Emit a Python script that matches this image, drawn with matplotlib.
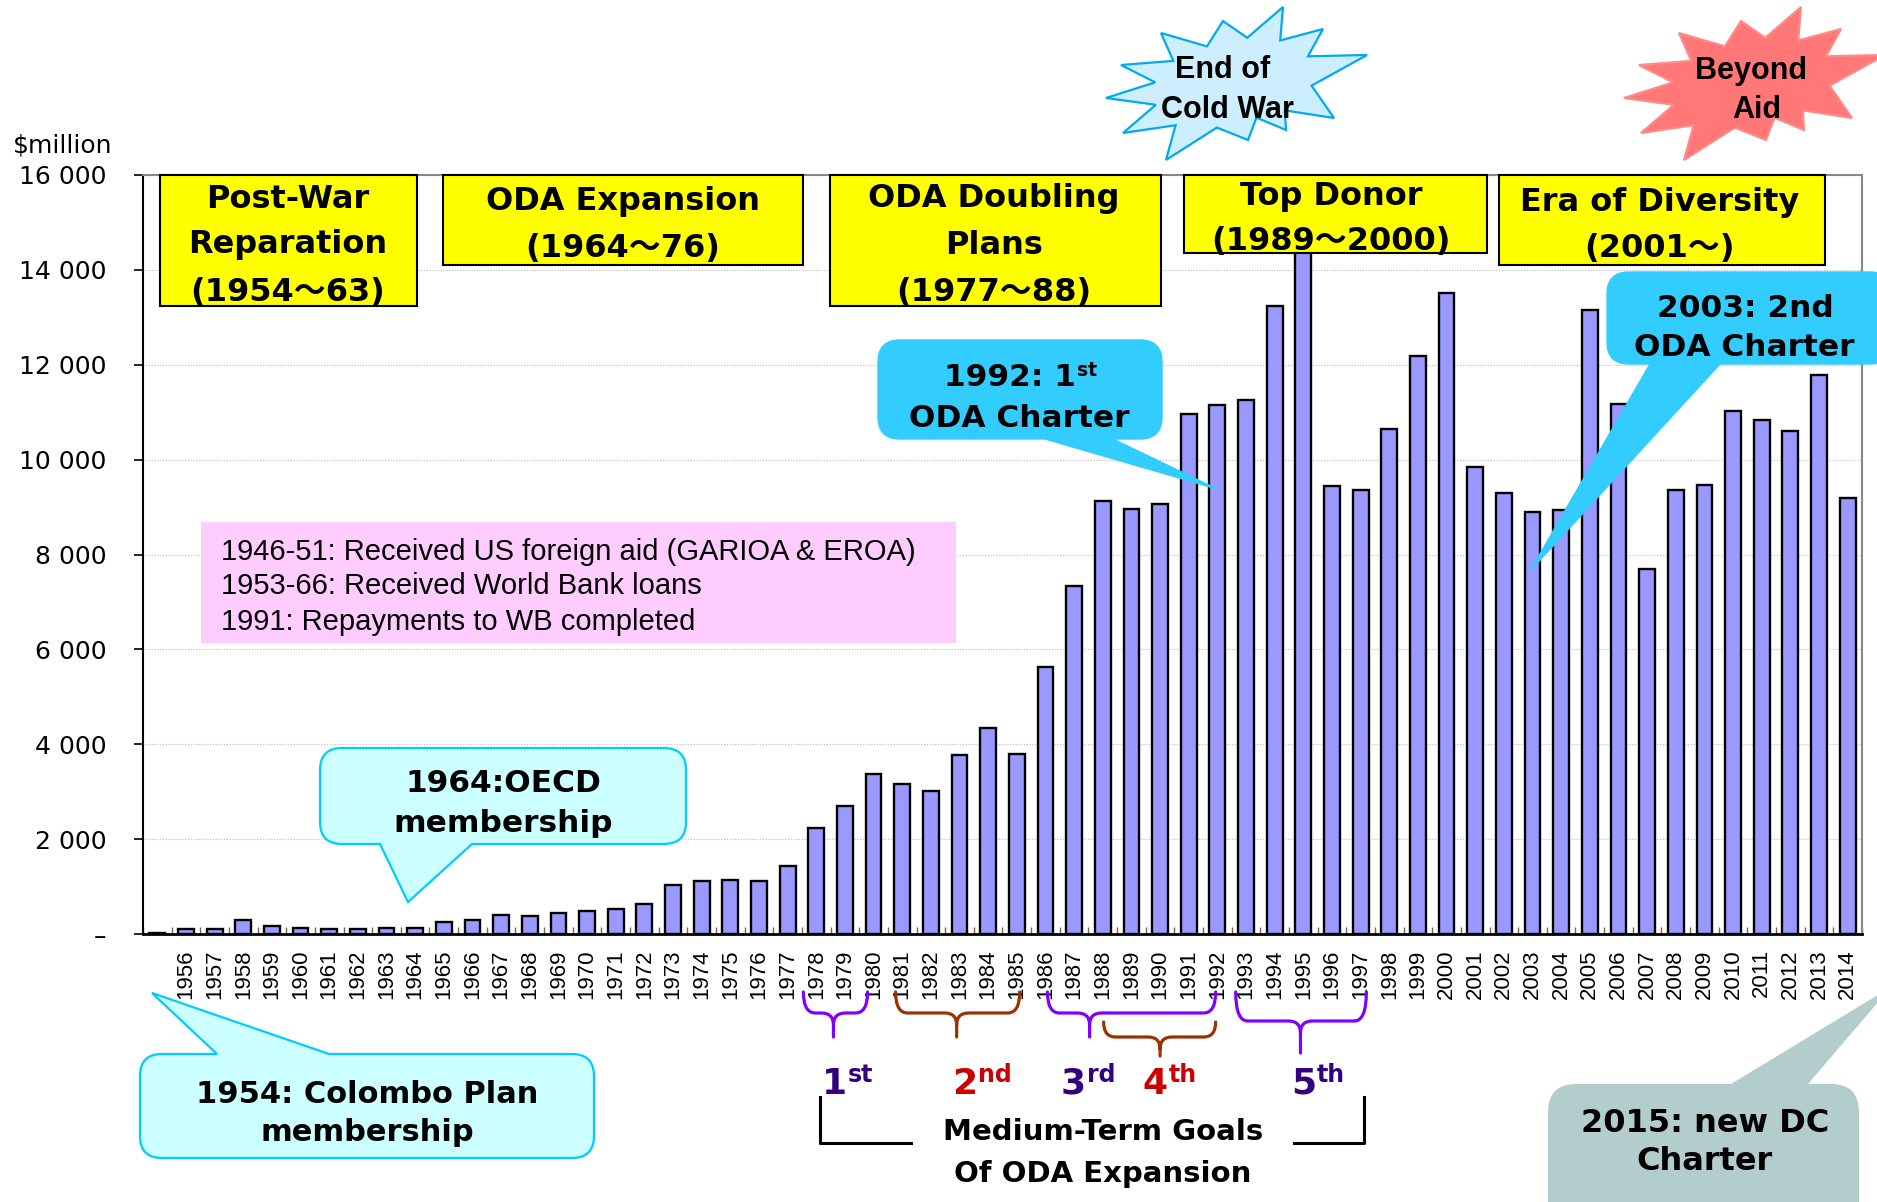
import matplotlib
matplotlib.use("Agg")
import matplotlib.pyplot as plt
from matplotlib.path import Path
from matplotlib.patches import PathPatch, Rectangle, Polygon

# ---------------- data ----------------
years = list(range(1955, 2015))
oda_musd = [20, 100, 100, 300, 160, 120, 110, 100, 137, 130,
            262, 297, 400, 377, 445, 480, 525, 628, 1027, 1120,
            1141, 1107, 1426, 2225, 2693, 3366, 3172, 3024, 3765, 4336,
            3800, 5637, 7337, 9128, 8968, 9071, 10954, 11148, 11262, 13247,
            14489, 9447, 9368, 10646, 12175, 13521, 9850, 9288, 8889, 8934,
            13156, 11182, 7690, 9368, 9470, 11022, 10840, 10611, 11787, 9197]
year_labels = [""] + [str(y) for y in years[1:]]
ytick_values = [0, 2000, 4000, 6000, 8000, 10000, 12000, 14000, 16000]
ytick_labels = ["–", "2 000", "4 000", "6 000", "8 000", "10 000", "12 000", "14 000", "16 000"]

era_lines = [["Post-War", "Reparation", "(1954～63)"],
             ["ODA Expansion", "(1964～76)"],
             ["ODA Doubling", "Plans", "(1977～88)"],
             ["Top Donor", "(1989～2000)"],
             ["Era of Diversity", "(2001～)"]]
pink_lines = ["1946-51: Received US foreign aid (GARIOA & EROA)",
              "1953-66: Received World Bank loans",
              "1991: Repayments to WB completed"]
goal_digits = ["1", "2", "3", "4", "5"]
goal_sups = ["st", "nd", "rd", "th", "th"]

# ---------------- figure ----------------
W, H = 1877, 1202
fig = plt.figure(figsize=(W / 100, H / 100), dpi=100)
AX_L, AX_R, AX_T, AX_B = 143, 1862, 175, 934
ax = fig.add_axes([AX_L / W, 1 - AX_B / H, (AX_R - AX_L) / W, (AX_B - AX_T) / H])

ax.bar(years, oda_musd, width=0.55, color="#9999FF", edgecolor="black",
       linewidth=1.7, zorder=3)
ax.set_xlim(1954.5, 2014.5)
ax.set_ylim(0, 16000)
ax.set_yticks(ytick_values)
ax.set_yticklabels(ytick_labels, fontsize=18, family="DejaVu Sans")
ax.set_xticks(years)
ax.set_xticklabels(year_labels, rotation=90, fontsize=16, family="Liberation Sans")
ax.set_xticks([y + 0.5 for y in [years[0] - 1] + years], minor=True)
ax.tick_params(axis="x", which="major", length=0, pad=11)
ax.tick_params(axis="x", which="minor", direction="in", length=5, width=1, color="#666666")
ax.tick_params(axis="y", length=6.5, width=1.2, pad=20)
ax.yaxis.grid(True, linestyle=(0, (1, 1.5)), color="#BBBBBB", linewidth=0.8)
ax.set_axisbelow(True)
ax.spines["left"].set_linewidth(1.5)
ax.spines["bottom"].set_linewidth(2.0)
for s in ("top", "right"):
    ax.spines[s].set_color("#888888")
    ax.spines[s].set_linewidth(1.5)

# overlay in pixel coordinates (y downward)
ov = fig.add_axes([0, 0, 1, 1], zorder=10)
ov.set_xlim(0, W)
ov.set_ylim(H, 0)
ov.axis("off")

BOLD = ["DejaVu Sans", "Noto Sans CJK JP"]


def xpix(year):
    return ax.transData.transform((year, 0))[0]


def line(x, yc, s, size, family=BOLD, weight="bold", color="black", ha="center"):
    ov.text(x, yc + 0.36 * size * 100 / 72, s, fontsize=size, fontweight=weight,
            family=family, color=color, ha=ha, va="baseline", zorder=20)


ov.text(13, 144 + 0.36 * 18 * 100 / 72, "$million", fontsize=18, family="DejaVu Sans",
        ha="left", va="baseline")

# ---------------- era boxes ----------------
era_boxes = [(160, 417, 175, 306), (443, 803, 175, 265), (830, 1161, 175, 306),
             (1184, 1487, 175, 253), (1499, 1825, 175, 265)]
era_text_x = [288, 623, 994, 1331, 1660]
era_text_y = [[196, 242, 289], [198.5, 245.5], [196, 242, 289], [193.5, 238.5], [199, 245.5]]
era_sizes = [23, 23, 23, 23, 23]
for (x0, x1, y0, y1), lines_, tx, tys, fs in zip(era_boxes, era_lines, era_text_x, era_text_y, era_sizes):
    ov.add_patch(Rectangle((x0, y0), x1 - x0, y1 - y0, facecolor="#FFFF00",
                           edgecolor="black", linewidth=1.5, zorder=5))
    for s, ty in zip(lines_, tys):
        line(tx, ty, s, fs)

# ---------------- pink box ----------------
ov.add_patch(Rectangle((201, 522), 755, 121, facecolor="#FFCCFF", edgecolor="none", zorder=5))
for s, ty in zip(pink_lines, [549, 584, 619]):
    line(221, ty, s, 21, family="Liberation Sans", weight="normal", ha="left")


# ---------------- callouts ----------------
def callout(x0, y0, x1, y1, r, side, a, b, tip, fc, ec, lw):
    v, c = [], []

    def add(p, code):
        v.append(p)
        c.append(code)
    add((x0 + r, y0), Path.MOVETO)
    if side == "top":
        add((a, y0), Path.LINETO); add(tip, Path.LINETO); add((b, y0), Path.LINETO)
    add((x1 - r, y0), Path.LINETO)
    add((x1, y0), Path.CURVE3); add((x1, y0 + r), Path.CURVE3)
    add((x1, y1 - r), Path.LINETO)
    add((x1, y1), Path.CURVE3); add((x1 - r, y1), Path.CURVE3)
    if side == "bottom":
        add((b, y1), Path.LINETO); add(tip, Path.LINETO); add((a, y1), Path.LINETO)
    add((x0 + r, y1), Path.LINETO)
    add((x0, y1), Path.CURVE3); add((x0, y1 - r), Path.CURVE3)
    add((x0, y0 + r), Path.LINETO)
    add((x0, y0), Path.CURVE3); add((x0 + r, y0), Path.CURVE3)
    add((x0 + r, y0), Path.CLOSEPOLY)
    ov.add_patch(PathPatch(Path(v, c), facecolor=fc, edgecolor=ec, linewidth=lw, zorder=8))


callout(320, 748, 686, 844, 22, "bottom", 380, 472, (408, 902), "#CCFFFF", "#00CCFF", 1.6)
line(503, 781, "1964:OECD", 22.5)
line(503, 821, "membership", 22.5)

callout(140, 1054, 594, 1158, 22, "top", 217, 329, (152, 993), "#CCFFFF", "#00CCFF", 1.6)
line(367, 1092, "1954: Colombo Plan", 22)
line(367, 1130, "membership", 22)

callout(878, 340, 1162, 439, 22, "bottom", 1045, 1113, (1217, 489), "#33CCFF", "#33CCFF", 1.0)
line(1076, 375, "1992: 1", 22.5, ha="right")
line(1077, 369, "st", 13.5, ha="left")
line(1019, 416, "ODA Charter", 22.5)

callout(1607, 272, 1892, 364, 22, "bottom", 1650, 1720, (1530, 571), "#33CCFF", "#33CCFF", 1.0)
line(1745, 306, "2003: 2nd", 22.5)
line(1744, 345, "ODA Charter", 22.5)

callout(1548, 1084, 1859, 1240, 28, "top", 1731, 1808, (1891, 987), "#B3CCCC", "none", 0)
line(1705, 1120, "2015: new DC", 23)
line(1705, 1158, "Charter", 23)

# ---------------- starbursts ----------------
tips = [(47, -77), (87, -55), (131, -29), (98, 34), (50, 46), (12, 56),
        (-70, 76), (-113, 49), (-130, 14), (-115, -19), (-75, -51), (-13, -63)]


def star(cx, cy, fc, ec):
    pts = []
    n = len(tips)
    for i in range(n):
        ax_, ay_ = tips[i]
        bx_, by_ = tips[(i + 1) % n]
        pts.append((cx + ax_, cy + ay_))
        pts.append((cx + 0.66 * (ax_ + bx_) / 2, cy + 0.66 * (ay_ + by_) / 2))
    ov.add_patch(Polygon(pts, closed=True, facecolor=fc, edgecolor=ec, linewidth=1.6, zorder=8))


star(1236, 84, "#CCEEFF", "#00AAEE")
line(1223, 67.5, "End of", 22, family="Liberation Sans")
line(1227, 107, "Cold War", 22, family="Liberation Sans")
star(1754, 84, "#FF7777", "#FF8A8A")
line(1751, 68, "Beyond", 22, family="Liberation Sans")
line(1757, 107, "Aid", 22, family="Liberation Sans")

# ---------------- medium-term goal braces ----------------
PURPLE, BROWN = "#7F00FF", "#993300"
braces = [(1977.55, 1979.79, 1978.6, 992, 1013, 1037, PURPLE),
          (1980.77, 1985.10, 1982.9, 992, 1013, 1037, BROWN),
          (1986.07, 1991.94, 1987.54, 992, 1013, 1037, PURPLE),
          (1988.03, 1991.94, 1990.0, 1022, 1037, 1056, BROWN),
          (1992.64, 1997.20, 1994.9, 992, 1021, 1053, PURPLE)]
for ya, yb, yt, ytop, ymid, ytip, col in braces:
    xa, xb, xt = xpix(ya), xpix(yb), xpix(yt)
    r = min(12, (ymid - ytop) * 0.9)
    v = [(xa, ytop), (xa, ymid), (xa + r, ymid), (xt - r, ymid), (xt, ymid), (xt, ymid + r),
         (xt, ytip),
         (xt, ymid + r), (xt, ymid), (xt + r, ymid), (xb - r, ymid), (xb, ymid), (xb, ytop)]
    c = [Path.MOVETO, Path.CURVE3, Path.CURVE3, Path.LINETO, Path.CURVE3, Path.CURVE3,
         Path.LINETO,
         Path.MOVETO, Path.CURVE3, Path.CURVE3, Path.LINETO, Path.CURVE3, Path.CURVE3]
    ov.add_patch(PathPatch(Path(v, c), facecolor="none", edgecolor=col, linewidth=2.3,
                           capstyle="round", zorder=8))

goal_split_x = [847, 977, 1086, 1168, 1316]
goal_colors = ["#330080", "#CC0000", "#330080", "#CC0000", "#330080"]
for d, sup, gx, gc in zip(goal_digits, goal_sups, goal_split_x, goal_colors):
    ov.text(gx, 1094, d, fontsize=26, fontweight="bold", family="DejaVu Sans",
            color=gc, ha="right", va="baseline")
    ov.text(gx + 1, 1082, sup, fontsize=17, fontweight="bold", family="DejaVu Sans",
            color=gc, ha="left", va="baseline")

ov.plot([820, 820, 911], [1097, 1143, 1143], color="black", linewidth=2.2)
ov.plot([1294, 1364, 1364], [1143, 1143, 1097], color="black", linewidth=2.2)
line(1103, 1130, "Medium-Term Goals", 21)
line(1103, 1172, "Of ODA Expansion", 21)

fig.savefig("out.png", dpi=100)
